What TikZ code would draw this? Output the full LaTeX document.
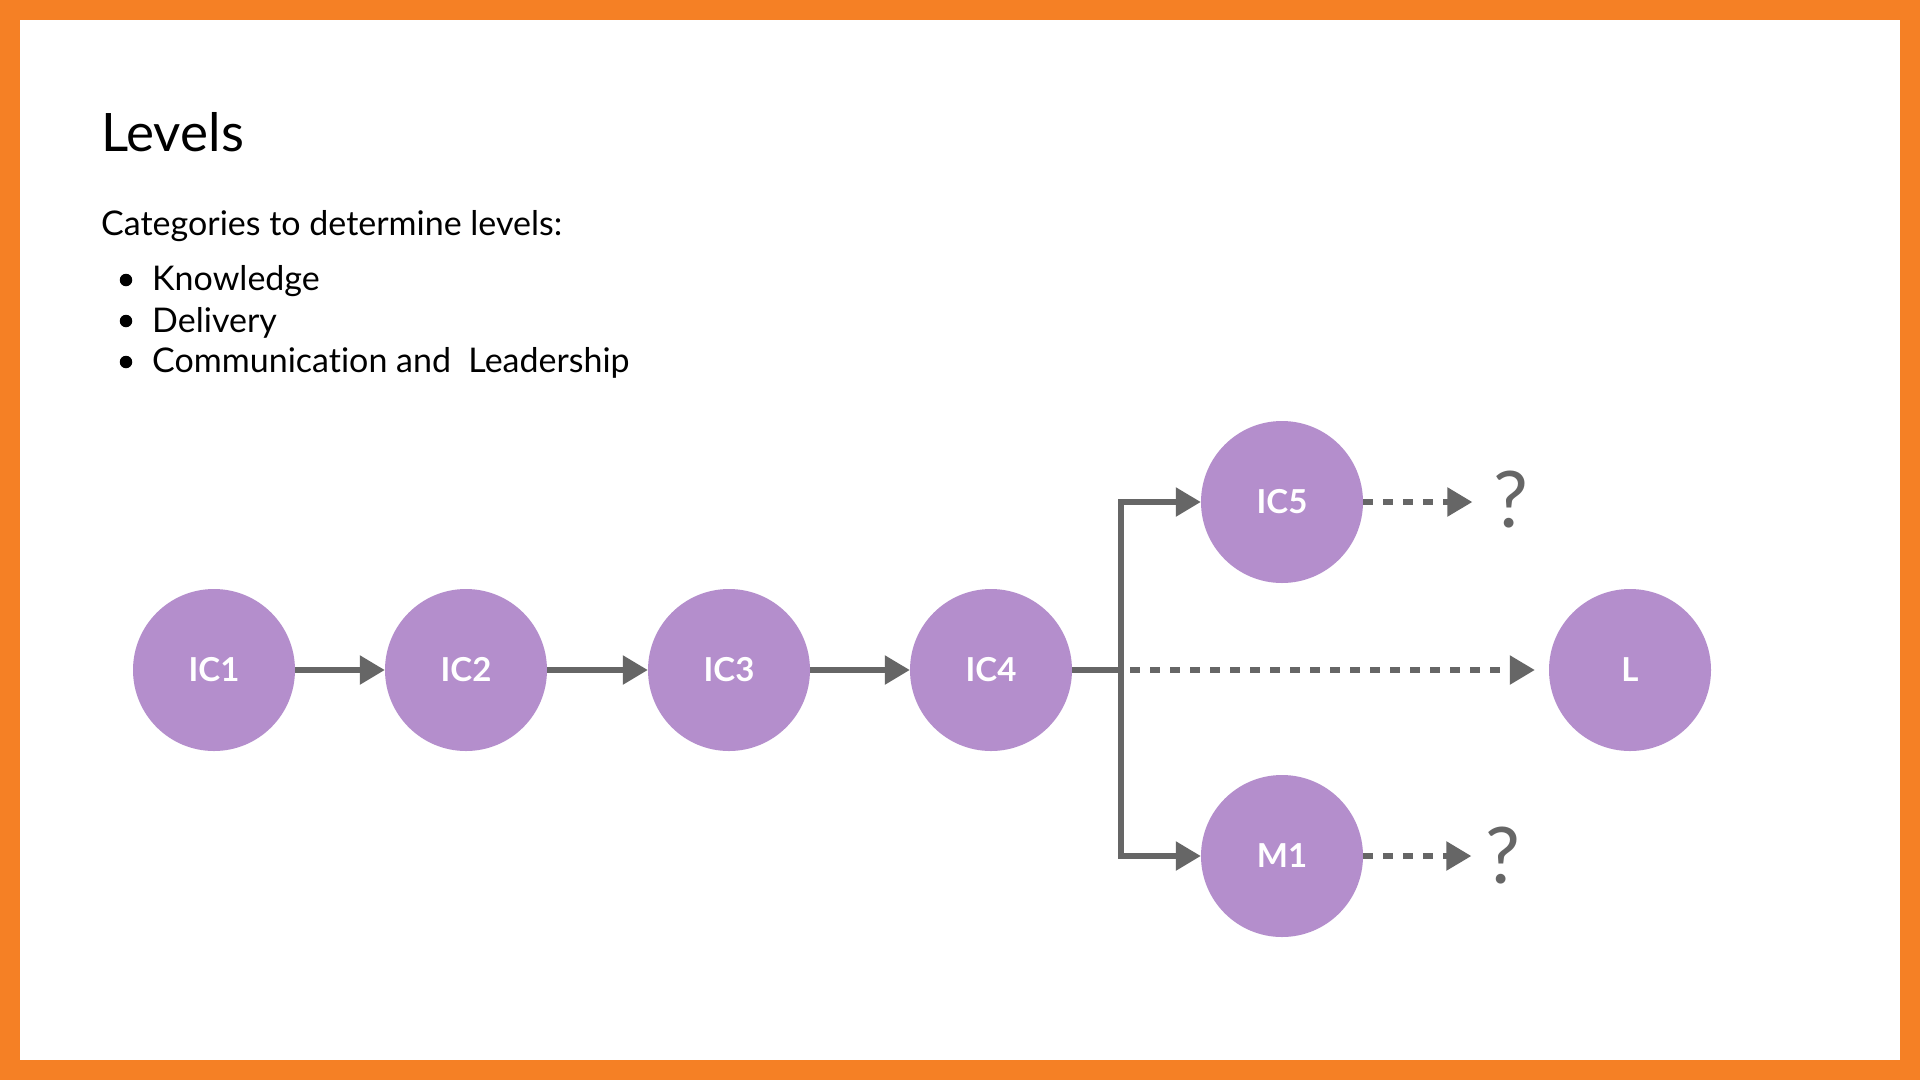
\documentclass[tikz,border=0pt]{standalone}
\usepackage{fontspec}
\setmainfont{Lato}[Ligatures=NoCommon]
\usetikzlibrary{arrows.meta}
\definecolor{framec}{HTML}{F58025}
\definecolor{lvlc}{HTML}{B48ECC}
\definecolor{conc}{HTML}{666666}
\begin{document}
\begin{tikzpicture}[x=1pt,y=-1pt,
  lvl/.style={circle, fill=lvlc, minimum size=162pt, inner sep=0pt, text=white,
    font=\fontsize{33}{33}\selectfont\bfseries},
  conn/.style={draw=conc, line width=5.5pt, -{Triangle[length=25pt,width=28pt]}},
  plain/.style={draw=conc, line width=5.5pt},
  dsh/.style={conn, dash pattern=on 10pt off 10pt},
  txt/.style={anchor=base west, inner sep=0pt, font=\fontsize{34}{34}\selectfont},
  dot/.style={circle, fill=black, inner sep=0pt, minimum size=12.5pt},
  qm/.style={inner sep=0pt, text=conc, font=\fontsize{78}{78}\selectfont}]
\fill[framec] (0,0) rectangle (1920,1080);
\fill[white] (20,20) rectangle (1900,1060);
\useasboundingbox (0,0) rectangle (1920,1080);

\node[txt, font=\fontsize{53}{53}\selectfont] (title) at (101,151) {Levels};
\node[txt] (cat) at (101,235) {Categories to determine levels:};
\node[dot] (d1) at (126,280) {};
\node[dot] (d2) at (126,321) {};
\node[dot] (d3) at (126,362) {};
\node[txt] (b1) at (152,290) {Knowledge};
\node[txt] (b2) at (152,332) {Delivery};
\node[txt] (b3) at (152,372) {Communication and\ \ Leadership};

\node[lvl] (ic1) at (214,670) {IC1};
\node[lvl] (ic2) at (466,670) {IC2};
\node[lvl] (ic3) at (729,670) {IC3};
\node[lvl] (ic4) at (991,670) {IC4};
\node[lvl] (ic5) at (1282,502) {IC5};
\node[lvl] (m1) at (1282,856) {M1};
\node[lvl] (l) at (1630,670) {L};

\node[qm] (q1) at (1511,500) {?};
\node[qm] (q2) at (1503,856) {?};

\coordinate (br) at (1121,670);
\coordinate (ds) at (1130,670);

\draw[conn] (ic1) -- (ic2);
\draw[conn] (ic2) -- (ic3);
\draw[conn] (ic3) -- (ic4);
\draw[plain] (ic4.east) -- (br);
\draw[conn] (br) |- (ic5.west);
\draw[conn] (br) |- (m1.west);
\draw[dsh, shorten >=14pt] (ds) -- (l.west);
\draw[dsh, shorten >=21pt] (ic5.east) -- (q1.west |- ic5.east);
\draw[dsh, shorten >=14pt] (m1.east) -- (q2.west |- m1.east);
\end{tikzpicture}
\end{document}
